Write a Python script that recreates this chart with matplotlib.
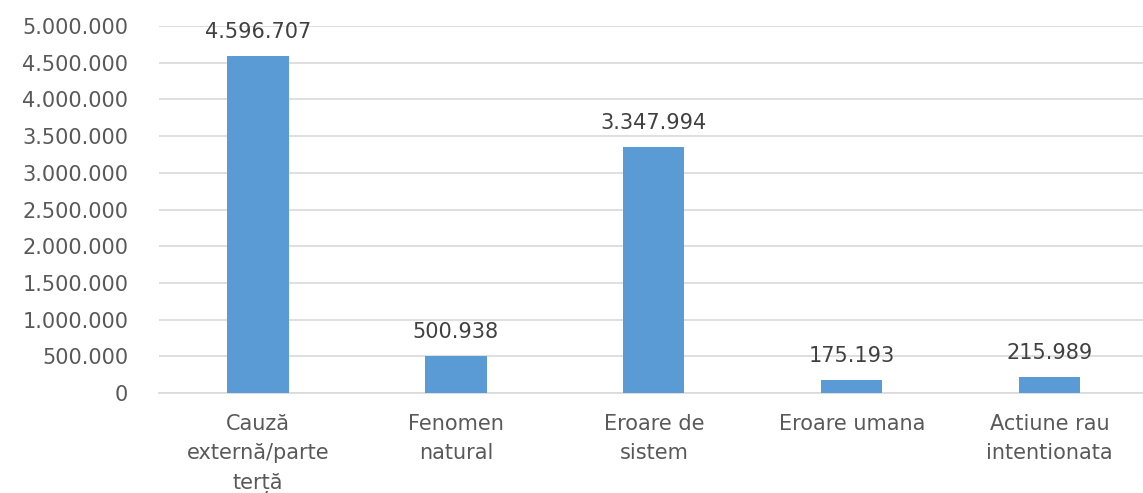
import matplotlib.pyplot as plt

categories = ["Cauză\nexternă/parte\nterță", "Fenomen\nnatural", "Eroare de\nsistem",
              "Eroare umana", "Actiune rau\nintentionata"]
values = [4596707, 500938, 3347994, 175193, 215989]
y_ticks = [0, 500000, 1000000, 1500000, 2000000, 2500000, 3000000, 3500000, 4000000,
           4500000, 5000000]

plt.rcParams['font.family'] = ['DejaVu Sans']
text_color = '#595959'


def dotted(v):
    return f"{int(v):,}".replace(",", ".")


fig = plt.figure(figsize=(11.43, 4.93), dpi=100)
ax = fig.add_axes([0.139, 0.2028, 0.866, 0.7444])

x = range(len(categories))
bars = ax.bar(x, values, width=0.31, color='#5B9BD5', zorder=3)
ax.bar_label(bars, labels=[dotted(v) for v in values], padding=10,
             fontsize=15, color='#404040')

ax.set_xlim(-0.5, len(categories) - 0.5)
ax.set_ylim(0, 5000000)
ax.set_yticks(y_ticks)
ax.set_yticklabels([dotted(v) for v in y_ticks])
ax.set_xticks(list(x))
ax.set_xticklabels(categories, linespacing=1.6)

ax.yaxis.grid(True, color='#D9D9D9', linewidth=1.2, zorder=0)
ax.tick_params(axis='y', length=0, pad=22, labelsize=15, labelcolor=text_color)
ax.tick_params(axis='x', length=0, pad=15, labelsize=15, labelcolor=text_color)

for side in ['top', 'right', 'left']:
    ax.spines[side].set_visible(False)
ax.spines['bottom'].set_color('#D9D9D9')
ax.spines['bottom'].set_linewidth(1.2)

fig.savefig('out.png', dpi=100)
